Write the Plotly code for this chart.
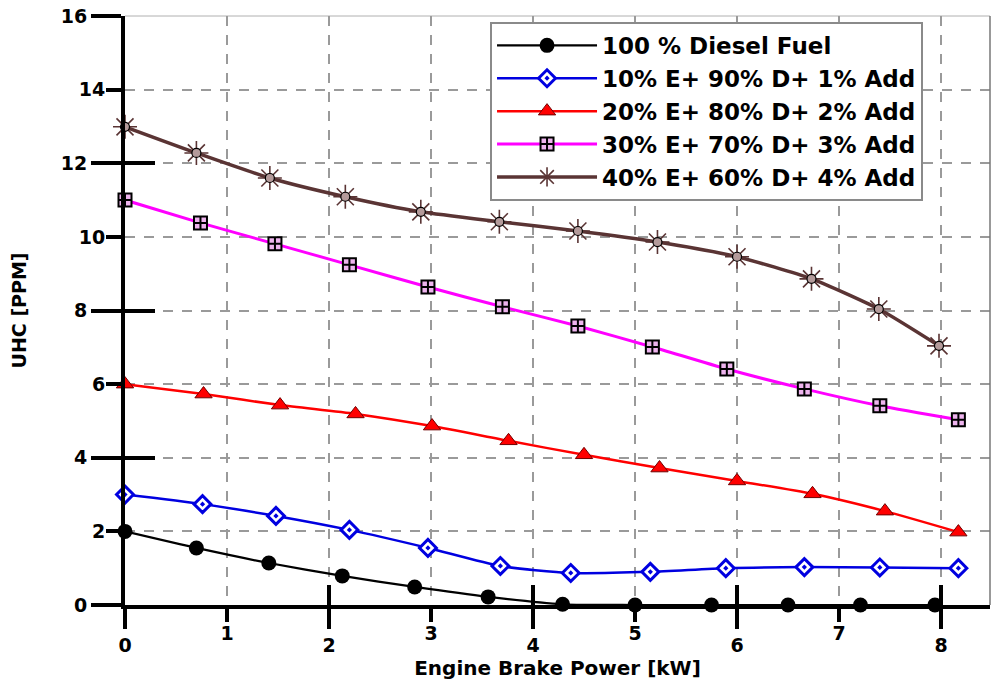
import plotly.graph_objects as go

# Engine brake power [kW] at each measured point, per fuel blend
x_diesel = [0, 0.70, 1.41, 2.13, 2.84, 3.56, 4.29, 5.00, 5.75, 6.50, 7.21, 7.94]
y_diesel = [2.0, 1.55, 1.14, 0.79, 0.49, 0.22, 0.02, 0.0, 0.0, 0.0, 0.0, 0.0]

x_e10 = [0, 0.76, 1.48, 2.20, 2.97, 3.68, 4.37, 5.15, 5.89, 6.66, 7.40, 8.17]
y_e10 = [3.0, 2.74, 2.42, 2.04, 1.55, 1.06, 0.87, 0.90, 1.00, 1.03, 1.02, 1.00]

x_e20 = [0, 0.77, 1.52, 2.26, 3.01, 3.76, 4.50, 5.24, 6.00, 6.74, 7.45, 8.17]
y_e20 = [6.0, 5.73, 5.43, 5.19, 4.86, 4.46, 4.08, 3.72, 3.37, 3.02, 2.55, 1.98]

x_e30 = [0, 0.74, 1.47, 2.20, 2.97, 3.70, 4.44, 5.17, 5.90, 6.66, 7.40, 8.17]
y_e30 = [11.0, 10.38, 9.81, 9.24, 8.64, 8.10, 7.58, 7.01, 6.41, 5.87, 5.41, 5.03]

x_e40 = [0, 0.70, 1.42, 2.16, 2.90, 3.67, 4.44, 5.22, 6.00, 6.73, 7.39, 7.98]
y_e40 = [12.99, 12.28, 11.60, 11.09, 10.68, 10.41, 10.16, 9.86, 9.46, 8.86, 8.04, 7.04]

names = [
    "100 % Diesel Fuel",
    "10% E+ 90% D+ 1% Add",
    "20% E+ 80% D+ 2% Add",
    "30% E+ 70% D+ 3% Add",
    "40% E+ 60% D+ 4% Add",
]

x_major = [0, 2, 4, 6, 8]
x_minor = [1, 3, 5, 7]
y_major = [0, 4, 8, 12, 16]
y_minor = [2, 6, 10, 14]

X_RANGE = [0, 8.48]
Y_RANGE = [0, 16]

FONT = "DejaVu Sans"
GRID = "#9a9a9a"
DASH = "10px,9px"

fig = go.Figure()

fig.add_trace(go.Scatter(
    x=x_diesel, y=y_diesel, name=names[0], mode="lines+markers",
    line=dict(color="black", width=2.2, shape="spline", smoothing=0.6),
    marker=dict(symbol="circle", size=15, color="black"),
    cliponaxis=False,
))
fig.add_trace(go.Scatter(
    x=x_e10, y=y_e10, name=names[1], mode="lines+markers",
    line=dict(color="#0000e0", width=2.5, shape="spline", smoothing=0.6),
    marker=dict(symbol="diamond-dot", size=13, color="white",
                line=dict(color="#0000e0", width=3)),
    cliponaxis=False,
))
fig.add_trace(go.Scatter(
    x=x_e20, y=y_e20, name=names[2], mode="lines+markers",
    line=dict(color="#ff0000", width=2.5, shape="spline", smoothing=0.6),
    marker=dict(symbol="triangle-up", size=15, color="#ff0000",
                line=dict(color="#700000", width=1)),
    cliponaxis=False,
))
fig.add_trace(go.Scatter(
    x=x_e30, y=y_e30, name=names[3], mode="lines+markers",
    line=dict(color="#ff00ff", width=3, shape="spline", smoothing=0.6),
    marker=dict(symbol="square-cross", size=13, color="#eeb4ee",
                line=dict(color="black", width=2)),
    cliponaxis=False,
))
fig.add_trace(go.Scatter(
    x=x_e40, y=y_e40, name=names[4], mode="lines+markers",
    line=dict(color="#5a3434", width=3.5, shape="spline", smoothing=0.6),
    marker=dict(symbol="asterisk-open", size=20,
                line=dict(color="black", width=1.6)),
    cliponaxis=False,
))
# circular hub of the sun-shaped markers
fig.add_trace(go.Scatter(
    x=x_e40, y=y_e40, mode="markers", showlegend=False, hoverinfo="skip",
    marker=dict(symbol="circle", size=9, color="#b49a9a",
                line=dict(color="black", width=1.2)),
    cliponaxis=False,
))

# empty traces so the helper axes (odd labels, crossing tick halves) render
for xa, ya in [("x2", "y"), ("x3", "y"), ("x", "y2"), ("x", "y3")]:
    fig.add_trace(go.Scatter(x=[], y=[], xaxis=xa, yaxis=ya, mode="markers",
                             showlegend=False, hoverinfo="skip"))

tick_font = dict(family=FONT, size=19, color="black", weight="bold")

fig.update_layout(
    width=992, height=682,
    margin=dict(l=125, r=2, t=16, b=77),
    paper_bgcolor="white", plot_bgcolor="white",
    font=dict(family=FONT, color="black"),
    showlegend=True,
    legend=dict(
        x=0.422, y=0.99, xanchor="left", yanchor="top",
        bgcolor="white", bordercolor="#8a8a8a", borderwidth=2,
        font=dict(family=FONT, size=23, weight="bold", color="black"),
        itemwidth=100, tracegroupgap=0,
    ),
    xaxis=dict(
        range=X_RANGE, tickvals=x_major, ticktext=[str(v) for v in x_major],
        ticks="outside", ticklen=20, tickwidth=4, tickcolor="black",
        showline=True, linewidth=4, linecolor="black",
        showgrid=True, gridcolor=GRID, griddash=DASH, gridwidth=1.5,
        zeroline=False, tickfont=tick_font,
        minor=dict(tickvals=x_minor, ticks="outside", ticklen=13, tickwidth=4,
                   tickcolor="black", showgrid=True, gridcolor=GRID,
                   griddash=DASH, gridwidth=1.5),
        title=dict(text="Engine Brake Power [kW]", standoff=2,
                   font=dict(family=FONT, size=20, weight="bold")),
    ),
    xaxis2=dict(
        range=X_RANGE, overlaying="x", anchor="y", side="bottom",
        tickvals=x_minor, ticktext=[str(v) for v in x_minor],
        ticks="outside", ticklen=11, tickwidth=4, tickcolor="black",
        showline=False, showgrid=False, zeroline=False, tickfont=tick_font,
    ),
    xaxis3=dict(
        range=X_RANGE, overlaying="x", anchor="y", side="bottom",
        tickvals=x_major, ticks="inside", ticklen=20, tickwidth=4,
        tickcolor="black", showticklabels=False,
        showline=False, showgrid=False, zeroline=False,
    ),
    yaxis=dict(
        range=Y_RANGE, tickvals=y_major, ticktext=[str(v) for v in y_major],
        ticks="outside", ticklen=30, tickwidth=4, tickcolor="black",
        showline=True, linewidth=4, linecolor="black",
        showgrid=True, gridcolor=GRID, griddash=DASH, gridwidth=1.5,
        zeroline=False, tickfont=tick_font,
        minor=dict(tickvals=y_minor, ticks="outside", ticklen=15, tickwidth=4,
                   tickcolor="black", showgrid=True, gridcolor=GRID,
                   griddash=DASH, gridwidth=1.5),
        title=dict(text="UHC [PPM]", standoff=30,
                   font=dict(family=FONT, size=19, weight="bold")),
    ),
    yaxis2=dict(
        range=Y_RANGE, overlaying="y", anchor="x", side="left",
        tickvals=y_minor, ticktext=[str(v) for v in y_minor],
        ticks="outside", ticklen=15, tickwidth=4, tickcolor="black",
        showline=False, showgrid=False, zeroline=False, tickfont=tick_font,
    ),
    yaxis3=dict(
        range=Y_RANGE, overlaying="y", anchor="x", side="left",
        tickvals=y_major, ticks="inside", ticklen=30, tickwidth=4,
        tickcolor="black", showticklabels=False,
        showline=False, showgrid=False, zeroline=False,
    ),
    shapes=[
        dict(type="line", xref="paper", yref="paper", x0=1, x1=1, y0=0, y1=1,
             line=dict(color="#777777", width=1.5), layer="above"),
        dict(type="line", xref="paper", yref="paper", x0=0, x1=1, y0=1, y1=1,
             line=dict(color="#b0b0b0", width=1), layer="below"),
    ],
)

fig.write_html("out.html")
